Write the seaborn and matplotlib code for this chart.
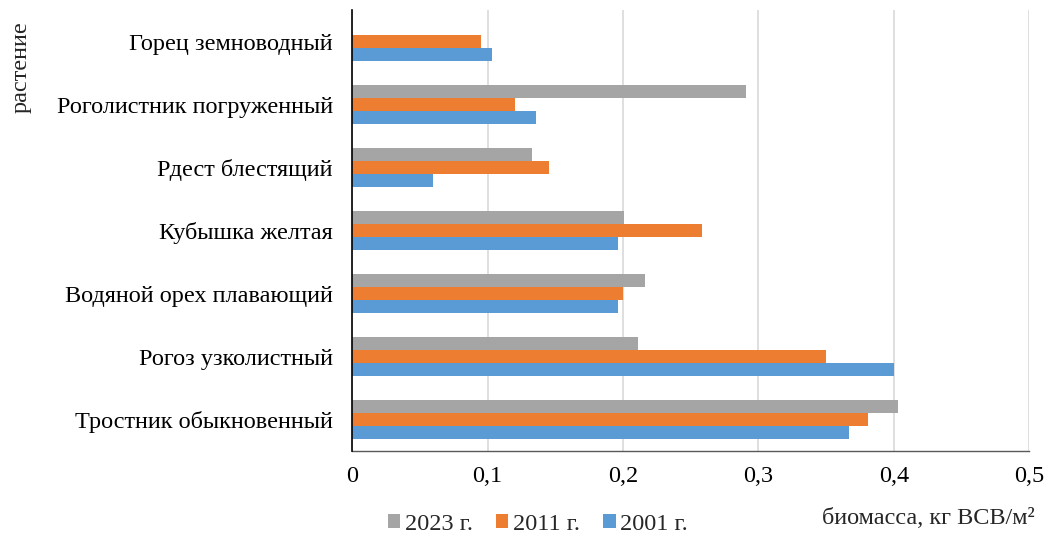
import matplotlib
matplotlib.use("Agg")
import matplotlib.pyplot as plt
import seaborn as sns
import pandas as pd
from matplotlib.ticker import FuncFormatter

plants = [
    "Горец земноводный",
    "Роголистник погруженный",
    "Рдест блестящий",
    "Кубышка желтая",
    "Водяной орех плавающий",
    "Рогоз узколистный",
    "Тростник обыкновенный",
]
years = ["2023 г.", "2011 г.", "2001 г."]
biomass_2023 = [0.0, 0.291, 0.133, 0.201, 0.216, 0.211, 0.403]
biomass_2011 = [0.095, 0.120, 0.145, 0.258, 0.200, 0.350, 0.381]
biomass_2001 = [0.103, 0.136, 0.060, 0.196, 0.196, 0.400, 0.367]
xticks = [0, 0.1, 0.2, 0.3, 0.4, 0.5]

colors = ["#A5A5A5", "#ED7D31", "#5B9BD5"]

df = pd.DataFrame({
    "plant": plants * 3,
    "year": [years[0]] * 7 + [years[1]] * 7 + [years[2]] * 7,
    "value": biomass_2023 + biomass_2011 + biomass_2001,
})

sns.set_theme(style="white")
plt.rcParams["font.family"] = ["Liberation Serif", "DejaVu Serif"]

fig = plt.figure(figsize=(10.45, 5.35), dpi=100)
ax = fig.add_axes([0.337, 0.157, 0.648, 0.824])

sns.barplot(
    data=df, y="plant", x="value", hue="year",
    order=plants, hue_order=years, palette=colors, saturation=1,
    orient="h", width=0.62, linewidth=0, errorbar=None, ax=ax,
)

ax.set_xlim(0, 0.5)
ax.set_xticks(xticks)
ax.xaxis.set_major_formatter(FuncFormatter(lambda v, p: ("%g" % round(v, 2)).replace(".", ",")))
ax.grid(axis="x", color="#D9D9D9", linewidth=1.2)
ax.set_axisbelow(True)
for s in ["top", "right"]:
    ax.spines[s].set_visible(False)
ax.spines["left"].set_color("#000000")
ax.spines["left"].set_linewidth(1.2)
ax.spines["left"].set_zorder(5)
ax.spines["bottom"].set_color("#595959")
ax.spines["bottom"].set_linewidth(1.0)
ax.tick_params(axis="x", colors="#595959", length=5, width=1.0, labelsize=17.5,
               labelcolor="#000000", pad=6)
ax.tick_params(axis="y", length=0, labelsize=17.5, labelcolor="#000000", pad=14)
ax.set_xlabel("")
ax.set_ylabel("")

handles, labels = ax.get_legend_handles_labels()
ax.legend_.remove()
fig.legend(handles, labels, loc="center", bbox_to_anchor=(0.515, 0.02),
           ncol=3, frameon=False, fontsize=17.5, handlelength=0.5, handleheight=0.5,
           handletextpad=0.2, columnspacing=0.95)

fig.text(0.99, 0.03, "биомасса, кг ВСВ/м²", ha="right", va="center", fontsize=17.5)
fig.text(0.02, 0.875, "растение", rotation=90, ha="center", va="center", fontsize=17.5)

fig.savefig("out.png", dpi=100)
